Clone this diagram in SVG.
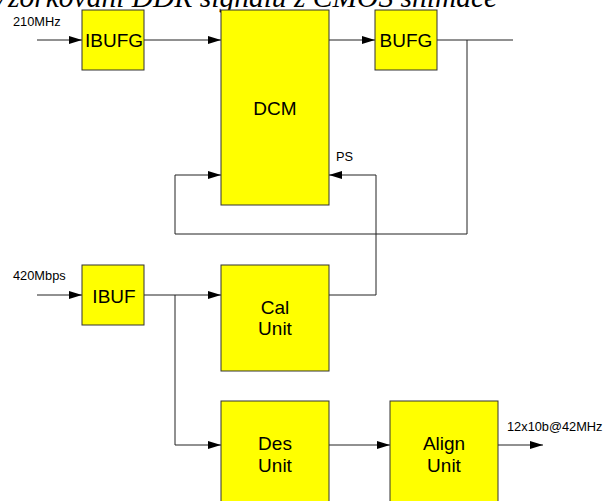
<svg xmlns="http://www.w3.org/2000/svg" width="604" height="501" viewBox="0 0 604 501">
<defs>
<marker id="arr" markerUnits="userSpaceOnUse" viewBox="0 0 13 8" refX="13" refY="4" markerWidth="13" markerHeight="8" orient="auto">
<path d="M0,0 L13,4 L0,8 z" fill="#000"/>
</marker>
<style>
.box{fill:#ffff00;stroke:#333;stroke-width:1}
.big{font-family:"Liberation Sans",Arial,sans-serif;font-size:19px;fill:#000;text-anchor:middle}
.lbl{font-family:"Liberation Sans",Arial,sans-serif;font-size:12.8px;fill:#000}
.ln{fill:none;stroke:#222;stroke-width:1}
.title{font-family:"Liberation Serif","Times New Roman",serif;font-style:italic;font-size:29.5px;fill:#000}
</style>
</defs>
<rect width="604" height="501" fill="#fff"/>
<text class="title" x="-10" y="7">Vzorkování DDR signálu z CMOS snímače</text>
<g id="connectors">
<path class="ln" d="M37,40 H82" marker-end="url(#arr)"/>
<path class="ln" d="M144,40 H221" marker-end="url(#arr)"/>
<path class="ln" d="M329,40 H375" marker-end="url(#arr)"/>
<path class="ln" d="M437,40 H513"/>
<path class="ln" d="M467,40 V234 H175 V175 H221" marker-end="url(#arr)"/>
<path class="ln" d="M329,295 H376 V175 H329" marker-end="url(#arr)"/>
<path class="ln" d="M37,295 H82" marker-end="url(#arr)"/>
<path class="ln" d="M144,295 H221" marker-end="url(#arr)"/>
<path class="ln" d="M175,295 V445 H221" marker-end="url(#arr)"/>
<path class="ln" d="M329,445 H390" marker-end="url(#arr)"/>
<path class="ln" d="M498,445 H543" marker-end="url(#arr)"/>
</g>
<g id="labels">
<text class="lbl" x="13" y="26">210MHz</text>
<text class="lbl" x="13" y="280">420Mbps</text>
<text class="lbl" x="336" y="161">PS</text>
<text class="lbl" x="507" y="431">12x10b@42MHz</text>
</g>
<g id="ibufg"><rect class="box" x="82" y="10" width="62" height="60"/><text class="big" x="114" y="47">IBUFG</text></g>
<g id="dcm"><rect class="box" x="221" y="10" width="108" height="195"/><text class="big" x="275" y="115">DCM</text></g>
<g id="bufg"><rect class="box" x="375" y="10" width="62" height="60"/><text class="big" x="406" y="47">BUFG</text></g>
<g id="ibuf"><rect class="box" x="82" y="265" width="62" height="60"/><text class="big" x="114" y="303">IBUF</text></g>
<g id="cal"><rect class="box" x="221" y="265" width="108" height="106"/><text class="big" x="275" y="314">Cal</text><text class="big" x="275" y="335">Unit</text></g>
<g id="des"><rect class="box" x="221" y="401" width="108" height="106"/><text class="big" x="275" y="450">Des</text><text class="big" x="275" y="472">Unit</text></g>
<g id="align"><rect class="box" x="390" y="401" width="108" height="106"/><text class="big" x="444" y="450">Align</text><text class="big" x="444" y="472">Unit</text></g>
</svg>
